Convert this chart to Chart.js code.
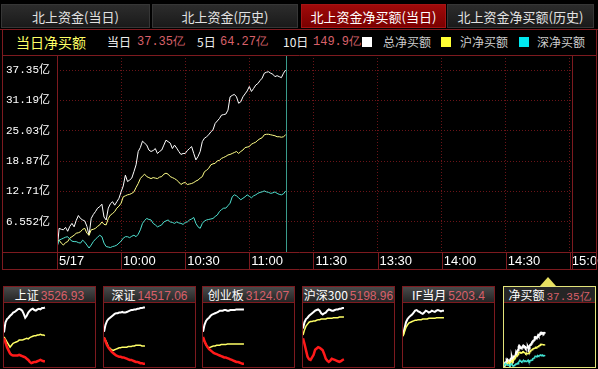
<!DOCTYPE html>
<html><head><meta charset="utf-8">
<script src="https://cdn.jsdelivr.net/npm/chart.js@4.4.0/dist/chart.umd.min.js"></script>
<style>
html,body{margin:0;padding:0;background:#000;}
body{width:598px;height:369px;overflow:hidden;position:relative;font-family:"Noto Sans CJK SC","Liberation Sans",sans-serif;}
.abs{position:absolute;}
.tab{position:absolute;top:4px;height:24px;line-height:23px;text-align:center;color:#e2e2e2;font-size:13px;background:linear-gradient(#2c2c2c,#1a1a1a);border:1px solid #363636;box-sizing:border-box;}
.tab.active{background:linear-gradient(#a00a0a,#7a0000);border-color:#a41414;color:#fff;}
.info{position:absolute;top:30px;height:24px;line-height:24px;white-space:nowrap;font-size:12px;color:#f0f0f0;}
.num{font-family:"Liberation Mono","DejaVu Sans Mono",monospace;font-size:12px;color:#d8606a;}
.sq{position:absolute;top:37px;width:10px;height:10px;}
.box{position:absolute;top:286px;width:93px;height:82px;border:1px solid #7d1a1f;box-sizing:border-box;}
.box .ttl{height:15px;line-height:15px;border-bottom:1px solid #7d1a1f;background:linear-gradient(#4a4a4a,#242424);text-align:center;white-space:nowrap;font-size:12px;color:#fff;overflow:hidden;}
.box .ttl .v{font-family:"Liberation Sans",sans-serif;font-size:12px;color:#d8606a;margin-left:2px;}
.box.sel{border-color:#e4e47a;}
.box.sel .ttl{background:#262626;}
.box.sel .ttl .num{font-size:11px;margin-left:2px;}
.box canvas{display:block;}
.tri{position:absolute;left:540px;top:277px;width:0;height:0;border-left:8px solid transparent;border-right:8px solid transparent;border-bottom:9px solid #e8e060;}
</style>
</head><body>

<div class="tab" style="left:1px;width:149px">北上资金(当日)</div>
<div class="tab" style="left:152px;width:146px">北上资金(历史)</div>
<div class="tab active" style="left:301px;width:145px">北上资金净买额(当日)</div>
<div class="tab" style="left:447px;width:147px">北上资金净买额(历史)</div>

<div class="abs" style="left:0;top:29px;width:598px;height:1px;background:#7d1a1f"></div>
<div class="abs" style="left:2px;top:29px;width:1px;height:21px;background:#7d1a1f"></div>
<div class="abs" style="left:596px;top:29px;width:1px;height:21px;background:#7d1a1f"></div>

<div class="info" style="left:16px;font-size:14px;color:#ffff66">当日净买额</div>
<div class="info" style="left:107px">当日</div>
<div class="info num" style="left:137px">37.35亿</div>
<div class="info" style="left:197px">5日</div>
<div class="info num" style="left:220px">64.27亿</div>
<div class="info" style="left:283px">10日</div>
<div class="info num" style="left:313px">149.9亿</div>
<div class="sq" style="left:362px;background:#ffffff"></div>
<div class="info" style="left:383px;color:#cccccc">总净买额</div>
<div class="sq" style="left:441px;background:#ffff33"></div>
<div class="info" style="left:460px;color:#cccccc">沪净买额</div>
<div class="sq" style="left:519px;background:#00e8f0"></div>
<div class="info" style="left:537px;color:#cccccc">深净买额</div>

<canvas id="main" class="abs" style="left:0;top:50px" width="598" height="222"></canvas>

<div class="box" style="left:3px"><div class="ttl">上证<span class="v">3526.93</span></div><canvas id="m1" width="91" height="64"></canvas></div>
<div class="box" style="left:103px"><div class="ttl">深证<span class="v">14517.06</span></div><canvas id="m2" width="91" height="64"></canvas></div>
<div class="box" style="left:202px"><div class="ttl">创业板<span class="v">3124.07</span></div><canvas id="m3" width="91" height="64"></canvas></div>
<div class="box" style="left:302px"><div class="ttl">沪深300<span class="v">5198.96</span></div><canvas id="m4" width="91" height="64"></canvas></div>
<div class="box" style="left:402px"><div class="ttl">IF当月<span class="v">5203.4</span></div><canvas id="m5" width="91" height="64"></canvas></div>
<div class="tri"></div>
<div class="box sel" style="left:503px"><div class="ttl">净买额<span class="num">37.35亿</span></div><canvas id="m6" width="91" height="64"></canvas></div>

<script>
// ---- axis ticks ----
const xTickMinutes = [0, 30, 60, 90, 120, 150, 180, 210, 240];
const xTickLabels = ['5/17', '10:00', '10:30', '11:00', '11:30', '13:30', '14:00', '14:30', '15:00'];
const yTickValues = [6.552, 12.71, 18.87, 25.03, 31.19, 37.35];
const yTickLabels = ['6.552亿', '12.71亿', '18.87亿', '25.03亿', '31.19亿', '37.35亿'];

// ---- main series (亿), one value per minute from 9:30 ----
const totalNet = [0.6,5.2,5.0,4.9,5.4,4.6,5.6,6.2,5.5,6.8,7.8,7.2,6.9,6.7,5.6,3.8,7.2,8.0,8.6,9.3,9.6,10.1,7.5,6.9,9.3,10.2,10.6,9.9,10.6,11.3,12.6,13.8,16.0,14.7,15.0,15.4,16.7,18.1,20.8,21.6,22.9,22.5,22.1,21.1,20.8,21.0,21.4,20.4,20.8,21.1,22.1,23.1,22.8,22.5,21.4,22.1,21.5,20.8,20.2,20.4,20.4,21.0,21.4,21.8,20.4,19.1,19.8,20.8,22.8,23.5,23.8,24.2,24.8,25.2,26.5,27.0,27.5,28.2,28.3,28.4,29.2,31.9,32.2,32.4,31.9,30.6,30.9,31.9,32.5,33.1,34.0,33.0,33.6,34.3,34.6,35.2,35.7,36.7,36.9,37.0,36.7,36.5,36.0,36.2,36.0,35.8,36.7,37.35];
const shNet = [2.5,2.8,2.2,1.8,2.3,2.5,3.2,3.5,3.8,4.2,4.3,4.5,5.0,5.2,4.2,3.8,4.9,5.0,5.2,5.6,5.9,6.5,6.0,5.9,7.2,7.9,8.2,8.6,9.3,9.7,10.3,11.6,11.8,12.0,12.1,12.3,12.6,13.5,14.3,15.3,15.8,16.2,15.7,15.5,15.3,15.5,15.4,15.3,15.6,15.7,16.2,16.4,16.2,15.7,15.5,15.3,15.0,14.6,14.1,14.4,14.5,14.1,14.2,14.3,14.5,14.8,15.0,15.4,15.7,16.7,17.0,17.4,18.1,18.3,18.4,18.9,19.0,19.4,19.6,19.8,20.1,20.2,20.4,20.6,20.8,20.4,20.8,21.1,21.6,21.7,21.8,22.3,22.5,22.7,23.1,23.4,23.6,24.2,24.3,24.3,24.2,24.1,24.0,23.8,23.8,23.7,23.8,24.2];
const szNet = [1.5,2.8,3.0,3.2,3.4,3.5,3.0,2.6,2.5,2.5,2.3,2.2,2.8,2.4,1.8,1.2,1.8,2.5,3.0,3.4,3.8,3.5,2.2,1.5,1.4,1.3,1.5,1.6,1.8,2.2,2.6,3.2,3.5,3.5,3.3,3.6,3.8,3.5,4.0,4.9,6.2,6.8,7.2,7.0,6.9,6.2,5.9,5.5,5.7,5.9,6.5,6.7,6.9,6.5,6.4,6.2,6.5,6.3,6.2,6.0,6.4,6.5,6.9,7.1,7.4,6.2,5.5,5.2,6.2,6.7,6.9,7.0,7.1,7.2,7.6,7.9,8.6,9.0,9.3,9.3,9.8,10.3,11.6,12.0,11.8,11.4,11.0,11.3,11.6,12.0,11.7,11.4,11.8,12.0,12.3,12.5,12.6,12.8,12.6,12.5,12.3,12.4,12.6,12.3,12.1,12.0,12.2,12.8];

// ---- mini charts (relative height 0-100, one value per 4 minutes) ----
const shPrice = [54,70,75,77,80,82,85,86,88,90,91,90,88,83,77,80,85,88,90,91,89,88,90,91,90,92,92,93];
const shAvg   = [47,43,39,35,31,34,37,38,39,40,42,42,42,43,44,45,44,46,47,48,49,49,50,50,51,50,50,49];
const shRed   = [45,38,31,26,21,19,18,18,18,18,19,18,17,16,15,13,11,8,6,7,8,8,9,10,11,10,9,9];
const szPrice = [55,66,72,75,77,79,81,83,84,84,85,85,86,85,85,86,87,88,89,89,90,90,91,91,92,92,93,93];
const szAvg   = [46,42,37,31,29,27,26,27,28,29,30,30,31,31,31,31,32,32,32,33,33,34,34,34,34,33,33,33];
const szRed   = [46,40,34,30,27,24,22,20,18,17,16,16,15,15,14,13,12,11,11,10,9,8,8,7,6,6,5,5];
const cyPrice = [55,66,72,75,77,80,82,83,84,85,86,88,88,88,89,89,88,88,89,89,89,89,90,90,90,90,90,90];
const cyAvg   = [46,40,35,31,30,31,32,33,33,34,34,34,35,35,35,35,36,36,36,36,36,36,36,36,36,36,36,36];
const cyRed   = [47,40,35,31,28,26,24,22,21,20,19,18,17,16,15,15,14,13,12,11,10,9,8,8,7,6,5,5];
const hsPrice = [60,70,75,77,80,82,84,86,88,89,90,88,84,82,84,85,88,90,89,88,88,89,90,90,91,91,92,92];
const hsAvg   = [50,58,64,67,70,71,71,72,72,73,74,74,75,75,75,75,76,76,76,76,77,77,77,77,78,78,78,78];
const hsRed   = [45,36,26,16,12,11,15,19,27,29,31,30,28,26,20,13,10,8,10,13,12,11,10,9,8,9,11,12];
const ifPrice = [50,60,70,75,78,80,82,85,88,89,87,86,84,83,85,88,87,85,86,88,87,86,88,89,88,87,88,88];
const ifAvg   = [48,55,62,66,69,70,71,72,73,73,74,74,74,75,75,75,75,76,76,76,76,76,77,77,77,77,77,77];

const FRAME = '#7d1a1f', GRID = '#6a1418';
const toPts = arr => arr.map((v, i) => ({x: i, y: v}));

const framePlugin = {
  id: 'frame',
  afterDatasetsDraw(chart) {
    const {ctx, chartArea: ca, scales: {x}} = chart;
    const px = Math.round(x.getPixelForValue(totalNet.length - 1)) + 0.5;
    ctx.save();
    ctx.strokeStyle = '#3a9c8c'; ctx.lineWidth = 1;
    ctx.beginPath(); ctx.moveTo(px, ca.top); ctx.lineTo(px, ca.bottom); ctx.stroke();
    ctx.restore();
  },
  afterDraw(chart) {
    const {ctx, chartArea: ca, scales: {x}} = chart;
    const L = ca.left, R = ca.right, T = ca.top, B = ca.bottom, AB = B + 17;
    ctx.save();
    ctx.strokeStyle = FRAME; ctx.lineWidth = 1; ctx.setLineDash([]);
    ctx.beginPath();
    [T, B, AB].forEach(y => { ctx.moveTo(2, y + 0.5); ctx.lineTo(597, y + 0.5); });
    [2, 596].forEach(p => { ctx.moveTo(p + 0.5, 0); ctx.lineTo(p + 0.5, AB + 1); });
    [L, R].forEach(p => { ctx.moveTo(p + 0.5, T); ctx.lineTo(p + 0.5, AB + 1); });
    x.ticks.forEach(t => {
      const p = Math.round(x.getPixelForValue(t.value)) + 0.5;
      ctx.moveTo(p, B); ctx.lineTo(p, AB);
    });
    ctx.stroke();
    ctx.restore();
  }
};

const lineDs = (label, arr, color, w) => ({label, data: toPts(arr), borderColor: color, borderWidth: w, pointRadius: 0, tension: 0, fill: false});

new Chart(document.getElementById('main'), {
  type: 'line',
  data: {datasets: [
    lineDs('深净买额', szNet, '#4fe0cf', 1),
    lineDs('沪净买额', shNet, '#ffff88', 1),
    lineDs('总净买额', totalNet, '#ffffff', 1)
  ]},
  options: {
    responsive: false, animation: false, events: [],
    layout: {padding: {left: 0, right: 26, top: 5, bottom: 3}},
    plugins: {legend: {display: false}, tooltip: {enabled: false}},
    scales: {
      x: {
        type: 'linear', min: 0, max: 241,
        afterBuildTicks: s => { s.ticks = xTickMinutes.map(v => ({value: v})); },
        afterFit: s => { s.height = 17; s.paddingLeft = 0; s.paddingRight = 0; },
        grid: {color: GRID, drawTicks: false, lineWidth: 1},
        border: {display: false, dash: [1, 2]},
        ticks: {autoSkip: false, maxRotation: 0, minRotation: 0, align: 'start', labelOffset: 2, padding: 2,
          color: '#ffffff', font: {family: 'Liberation Sans', size: 13},
          callback: (v, i) => xTickLabels[i]}
      },
      y: {
        type: 'linear', min: 0.392, max: 40.4,
        afterBuildTicks: s => { s.ticks = yTickValues.map(v => ({value: v})); },
        afterFit: s => { s.width = 57; s.paddingTop = 0; s.paddingBottom = 0; },
        grid: {color: GRID, drawTicks: false, lineWidth: 1},
        border: {display: false, dash: [1, 2]},
        ticks: {padding: 7, color: '#ffffff', font: {family: '"Liberation Mono", "Noto Sans CJK SC"', size: 11},
          callback: (v, i) => yTickLabels[i]}
      }
    }
  },
  plugins: [framePlugin]
});

function mini(id, series, xMax, yMin, yMax) {
  new Chart(document.getElementById(id), {
    type: 'line',
    data: {datasets: series.map(s => lineDs(s[0], s[1], s[2], s[3]))},
    options: {
      responsive: false, animation: false, events: [],
      layout: {padding: 0},
      plugins: {legend: {display: false}, tooltip: {enabled: false}},
      scales: {x: {type: 'linear', display: false, min: 0, max: xMax}, y: {display: false, min: yMin, max: yMax}}
    }
  });
}
mini('m1', [['red', shRed, '#ff1a1a', 2.5], ['avg', shAvg, '#ffff66', 1.5], ['price', shPrice, '#ffffff', 2]], 60, 0, 100);
mini('m2', [['red', szRed, '#ff1a1a', 2.5], ['avg', szAvg, '#ffff66', 1.5], ['price', szPrice, '#ffffff', 2]], 60, 0, 100);
mini('m3', [['red', cyRed, '#ff1a1a', 2.5], ['avg', cyAvg, '#ffff66', 1.5], ['price', cyPrice, '#ffffff', 2]], 60, 0, 100);
mini('m4', [['red', hsRed, '#ff1a1a', 2.5], ['avg', hsAvg, '#ffff66', 1.5], ['price', hsPrice, '#ffffff', 2]], 60, 0, 100);
mini('m5', [['avg', ifAvg, '#ffff66', 1.5], ['price', ifPrice, '#ffffff', 2]], 60, 0, 100);
mini('m6', [['深', szNet, '#40e0d0', 1.5], ['沪', shNet, '#ffff66', 1.5], ['总', totalNet, '#ffffff', 2]], 240, 0, 68.5);
</script>
</body></html>
